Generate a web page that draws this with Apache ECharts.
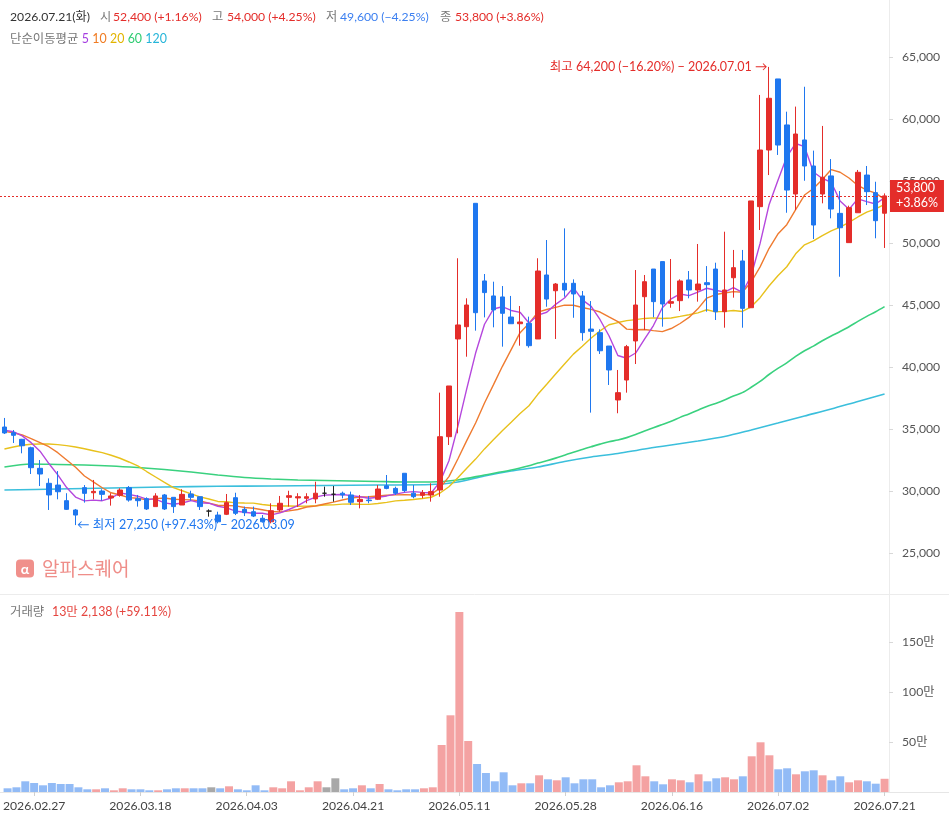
<!DOCTYPE html>
<html><head><meta charset="utf-8">
<script src="https://cdn.jsdelivr.net/npm/echarts@6/dist/echarts.min.js"></script>
<style>html,body{margin:0;padding:0;background:#fff}#c{width:949px;height:821px}</style>
</head><body><div id="c"></div>
<script>
const dates = ['2026.02.24','2026.02.25','2026.02.26','2026.02.27','2026.03.03','2026.03.04','2026.03.05','2026.03.06','2026.03.09','2026.03.10',
'2026.03.11','2026.03.12','2026.03.13','2026.03.16','2026.03.17','2026.03.18','2026.03.19','2026.03.20','2026.03.23','2026.03.24',
'2026.03.25','2026.03.26','2026.03.27','2026.03.30','2026.03.31','2026.04.01','2026.04.02','2026.04.03','2026.04.06','2026.04.07',
'2026.04.08','2026.04.09','2026.04.10','2026.04.13','2026.04.14','2026.04.15','2026.04.16','2026.04.17','2026.04.20','2026.04.21',
'2026.04.22','2026.04.23','2026.04.24','2026.04.27','2026.04.28','2026.04.29','2026.04.30','2026.05.04','2026.05.06','2026.05.07',
'2026.05.08','2026.05.11','2026.05.12','2026.05.13','2026.05.14','2026.05.15','2026.05.18','2026.05.19','2026.05.20','2026.05.21',
'2026.05.22','2026.05.26','2026.05.27','2026.05.28','2026.05.29','2026.06.01','2026.06.02','2026.06.04','2026.06.05','2026.06.08',
'2026.06.09','2026.06.10','2026.06.11','2026.06.12','2026.06.15','2026.06.16','2026.06.17','2026.06.18','2026.06.19','2026.06.22',
'2026.06.23','2026.06.24','2026.06.25','2026.06.26','2026.06.29','2026.06.30','2026.07.01','2026.07.02','2026.07.03','2026.07.06',
'2026.07.07','2026.07.08','2026.07.09','2026.07.10','2026.07.13','2026.07.14','2026.07.15','2026.07.16','2026.07.20','2026.07.21'];

const opens = [35160,34700,34170,33490,31830,30620,30480,29220,28470,30270,
29860,30000,29440,29650,30270,29380,29380,28740,29680,29490,
28870,29760,29540,28380,28060,28120,29460,28520,28330,27800,
27520,28470,29490,29440,29410,29360,29820,29740,29820,29680,
29140,29270,29330,30420,30210,31430,29820,29650,29680,30080,
34380,42260,43250,53200,46940,45730,45650,44030,43490,43520,
42260,47420,46150,46750,46750,45730,43060,42770,41690,37340,
38950,42100,45670,47900,48500,45140,45350,47020,46210,46800,
47900,44460,47200,48550,44780,52930,57500,63230,59520,53950,
58310,56210,53950,55410,52390,50030,52440,55480,54060,52400];

const closes = [34680,34490,33650,31880,31370,29680,29940,28520,28060,29810,
29970,29730,29600,30080,29270,29220,28550,29600,28550,28740,
29730,29490,28740,28380,27520,29060,28200,28250,27980,27520,
28410,29010,29620,29540,29540,29820,29820,29740,29680,29090,
29330,29220,30160,30210,29820,30030,29540,29860,29950,34380,
38470,43390,45000,44380,46000,44600,44330,43490,43630,41720,
47740,45480,46690,46210,45890,42770,42880,41310,39760,37930,
41640,45000,46880,45270,45080,45270,46940,46210,46690,46640,
44460,46210,48010,44730,53390,57500,61670,57900,54270,58790,
56210,51450,55300,52740,51230,52850,55700,54140,51800,53800];

const lows = [34600,33870,33040,31370,30400,28470,29330,28470,27250,29060,
29330,29220,28820,29540,29140,28740,28470,28740,28470,28230,
28870,29220,28470,27930,27390,28060,28060,27980,27900,27450,
27390,28330,28740,28710,29010,29010,29540,29140,29410,28870,
28600,29010,29270,30140,29680,29900,29410,29410,29140,29540,
33710,34650,40830,42930,44000,43200,41640,43490,41720,41560,
42260,44860,42260,45670,43970,42120,36320,41050,38550,36270,
37930,40240,42980,44010,43250,44780,44510,45540,45270,44460,
43790,43170,45590,43170,44780,51050,55480,57100,52440,52660,
55020,50320,53200,51990,47280,50030,52440,53060,50380,49600];

const highs = [35890,34920,34200,33570,32500,31020,31610,29820,28550,30480,
30890,30140,29820,30220,30400,29680,29490,29820,29760,29490,
30140,30020,29540,28520,28330,29760,29860,28740,28740,28060,
29010,29600,30020,29820,29820,30750,30350,30400,29950,29950,
29680,29600,30480,31290,30350,31430,30480,30080,30620,37930,
38470,48770,45540,53200,47500,46880,46530,45730,44920,44060,
48770,50240,46770,51180,47070,46130,45320,43040,41690,39760,
41780,47820,47420,47900,48500,48710,47070,47740,49920,48140,
48410,50910,49440,49440,53390,61940,64200,63230,60590,61000,
62600,57450,59440,56770,54190,53010,55890,56210,54940,54000];

const volumes = [37000,47000,107000,90000,67000,90000,80000,80000,47000,27000,
27000,37000,17000,37000,27000,27000,17000,17000,27000,37000,
37000,37000,37000,47000,37000,57000,27000,17000,67000,17000,
47000,37000,107000,17000,47000,107000,47000,137000,27000,37000,
67000,37000,80000,27000,17000,27000,27000,37000,47000,470000,
767000,1800000,510000,280000,190000,107000,197000,67000,87000,87000,
167000,127000,117000,147000,87000,127000,127000,47000,67000,97000,
107000,267000,157000,107000,77000,127000,117000,97000,177000,107000,
137000,147000,127000,157000,357000,497000,367000,227000,237000,177000,
207000,217000,167000,117000,157000,97000,117000,107000,83050,132138];

const ma5Early = [34900,34780,34450,33900];
const ma10Early = [34810,34700,34520,34220,33900,33570,33090,32500,31910];
const ma20Early = [33390,33550,33690,33770,33790,33790,33740,33660,33550,33410,33250,33090,32880,32640,32340,32020,31570,31130,30690];
const ma60Read = [[0,31935],[3,32180],[6,32140],[9,32100],[12,32020],[15,31890],[18,31730],[21,31530],[24,31290],[27,31090],[30,30970],[33,30890],[36,30850],[39,30810],[42,30770],[45,30730],[48,30730],[51,30890],[54,31290],[57,31690]];
const ma120Read = [[0,30080],[6,30160],[12,30240],[18,30320],[24,30380],[30,30400],[36,30440],[42,30480],[48,30520],[51,30720],[54,31210],[57,31610],[60,31930],[63,32380],[66,32740],[69,33020],[72,33390],[75,33710],[78,34030],[81,34390],[84,34920],[87,35480],[90,36050],[93,36610],[96,37220],[99,37820]];

const priceTicks = [25000,30000,35000,40000,45000,50000,55000,60000,65000];
const volumeTicks = [0,500000,1000000,1500000,2000000];
const labelDates = ['2026.02.27','2026.03.18','2026.04.03','2026.04.21','2026.05.11','2026.05.28','2026.06.16','2026.07.02','2026.07.21'];

const RED='#e42d2a', BLUE='#1f77ef', DOJI='#222';
const FONT='Lato, "Noto Sans CJK KR", sans-serif';

function sma(n, early){
  return closes.map((c,i)=>{
    if(i<n-1) return early[i];
    let s=0; for(let k=i-n+1;k<=i;k++) s+=closes[k];
    return Math.round(s/n);
  });
}
function fromPairs(pairs){ const a=dates.map(()=>null); pairs.forEach(p=>{a[p[0]]=p[1];}); return a; }
const ma5=sma(5,ma5Early), ma10=sma(10,ma10Early), ma20=sma(20,ma20Early);
const ma60=fromPairs(ma60Read);
for(let i=59;i<closes.length;i++){ let s=0; for(let k=i-59;k<=i;k++) s+=closes[k]; ma60[i]=Math.round(s/60); }
const ma120=fromPairs(ma120Read);

const candleData = dates.map((d,i)=>[opens[i],closes[i],lows[i],highs[i]]);
const volData = volumes.map((v,i)=>({value:v,itemStyle:{color: closes[i]>opens[i]?'#f4a2a2':(closes[i]<opens[i]?'#92bbf6':'#a8a8a8')}}));

const last = closes.length-1;
const fmt = v=>v.toLocaleString('en-US');
let hiIdx=0, loIdx=0;
highs.forEach((h,i)=>{ if(h>highs[hiIdx]) hiIdx=i; });
lows.forEach((l,i)=>{ if(l<lows[loIdx]) loIdx=i; });
const prevClose = closes[last-1];
const pct = v => { const p=(v/prevClose-1)*100; return (p>=0?'+':'−')+Math.abs(p).toFixed(2)+'%'; };
const hiPct = ((closes[last]/highs[hiIdx]-1)*100);
const loPct = ((closes[last]/lows[loIdx]-1)*100);
const labelSet = new Set(labelDates);

function maLine(name,data,color,width,extra){
  return Object.assign({name,type:'line',data,xAxisIndex:0,yAxisIndex:0,showSymbol:false,symbol:'none',
    lineStyle:{color,width:width},itemStyle:{color},silent:true,z:3,animation:false},extra||{});
}

const H1 = '12.2px '+FONT;
const chart = echarts.init(document.getElementById('c'));
chart.setOption({
  animation:false,
  backgroundColor:'#fff',
  textStyle:{fontFamily:FONT},
  grid:[{left:0,right:60,top:57,height:496},{left:0,right:60,top:592,height:200}],
  xAxis:[
    {type:'category',data:dates,gridIndex:0,boundaryGap:true,axisLine:{show:false},axisTick:{show:false},axisLabel:{show:false},splitLine:{show:false}},
    {type:'category',data:dates,gridIndex:1,boundaryGap:true,axisLine:{show:false},
     axisTick:{show:true,alignWithLabel:true,length:4,lineStyle:{color:'#d0d0d0'},interval:(i,v)=>labelSet.has(v)},
     axisLabel:{show:true,interval:(i,v)=>labelSet.has(v),color:'#444',fontSize:12.2,margin:8,fontFamily:FONT},splitLine:{show:false}}
  ],
  yAxis:[
    {type:'value',gridIndex:0,position:'right',min:priceTicks[0],max:priceTicks[priceTicks.length-1],interval:priceTicks[1]-priceTicks[0],
     axisLine:{show:false},axisTick:{show:true,length:4,lineStyle:{color:'#d8d8d8'}},splitLine:{show:false},
     axisLabel:{color:'#555',fontSize:12.2,margin:13,formatter:v=>fmt(v),fontFamily:FONT}},
    {type:'value',gridIndex:1,position:'right',min:volumeTicks[0],max:volumeTicks[volumeTicks.length-1],interval:volumeTicks[1]-volumeTicks[0],
     axisLine:{show:false},axisTick:{show:true,length:4,lineStyle:{color:'#d8d8d8'}},splitLine:{show:false},
     axisLabel:{color:'#555',fontSize:12.2,margin:13,showMinLabel:false,showMaxLabel:false,formatter:v=>(v/10000)+'만',fontFamily:FONT}}
  ],
  series:[
    maLine('MA120',ma120,'#3bbfdc',1.6,{connectNulls:true,smooth:0.3}),
    maLine('MA60',ma60,'#3ad17f',1.6,{connectNulls:true,smooth:0.3}),
    maLine('MA20',ma20,'#e8c11c',1.4),
    maLine('MA10',ma10,'#ef7b30',1.4),
    maLine('MA5',ma5,'#b547dd',1.4),
    {type:'candlestick',name:'price',data:candleData,xAxisIndex:0,yAxisIndex:0,barWidth:5,z:4,
     itemStyle:{color:RED,color0:BLUE,borderColor:RED,borderColor0:BLUE,borderColorDoji:DOJI,borderWidth:1},
     markLine:{symbol:'none',silent:true,animation:false,
       data:[{yAxis:closes[last]}],
       lineStyle:{color:RED,type:[2,2],width:1},
       label:{position:'end',distance:1,formatter:fmt(closes[last])+'\n'+pct(closes[last]),color:'#fff',backgroundColor:RED,
              fontSize:12.5,lineHeight:15,padding:[1,6,1,6],fontFamily:FONT,align:'left'}},
     markPoint:{silent:true,animation:false,symbol:'circle',symbolSize:1,itemStyle:{color:'rgba(0,0,0,0)'},
       data:[
        {coord:[hiIdx,highs[hiIdx]],label:{show:true,position:'left',distance:1,color:RED,fontSize:12.5,fontFamily:FONT,
          formatter:'최고 '+fmt(highs[hiIdx])+' ('+(hiPct<0?'−':'+')+Math.abs(hiPct).toFixed(2)+'%) − '+dates[hiIdx]+' →'}},
        {coord:[loIdx,lows[loIdx]],label:{show:true,position:'right',distance:1,color:BLUE,fontSize:12.5,fontFamily:FONT,
          formatter:'← 최저 '+fmt(lows[loIdx])+' ('+(loPct<0?'−':'+')+Math.abs(loPct).toFixed(2)+'%) − '+dates[loIdx]}}
       ]}
    },
    {type:'bar',name:'volume',data:volData,xAxisIndex:1,yAxisIndex:1,barCategoryGap:'10%',silent:true}
  ],
  graphic:[
    {type:'line',shape:{x1:889.5,y1:0,x2:889.5,y2:792},style:{stroke:'#ececec',lineWidth:1},silent:true},
    {type:'line',shape:{x1:0,y1:594.5,x2:949,y2:594.5},style:{stroke:'#ececec',lineWidth:1},silent:true},
    {type:'line',shape:{x1:0,y1:792.5,x2:949,y2:792.5},style:{stroke:'#e6e6e6',lineWidth:1},silent:true},
    {type:'text',left:10,top:11,style:{text:dates[last]+'(화)',fill:'#333',font:H1}},
    {type:'text',left:100,top:11,style:{text:'시',fill:'#777',font:H1}},
    {type:'text',left:113,top:11,style:{text:fmt(opens[last])+' ('+pct(opens[last])+')',fill:RED,font:H1}},
    {type:'text',left:212,top:11,style:{text:'고',fill:'#777',font:H1}},
    {type:'text',left:227,top:11,style:{text:fmt(highs[last])+' ('+pct(highs[last])+')',fill:RED,font:H1}},
    {type:'text',left:326,top:11,style:{text:'저',fill:'#777',font:H1}},
    {type:'text',left:340,top:11,style:{text:fmt(lows[last])+' ('+pct(lows[last])+')',fill:'#3b7ff0',font:H1}},
    {type:'text',left:440,top:11,style:{text:'종',fill:'#777',font:H1}},
    {type:'text',left:455,top:11,style:{text:fmt(closes[last])+' ('+pct(closes[last])+')',fill:RED,font:H1}},
    {type:'text',left:10,top:33,style:{rich:{g:{fill:'#777',fontSize:12.4,fontFamily:FONT},a:{fill:'#a53ee0',fontSize:12.4,fontFamily:FONT},
      b:{fill:'#f07b22',fontSize:12.4,fontFamily:FONT},c:{fill:'#e2b400',fontSize:12.4,fontFamily:FONT},d:{fill:'#2ecc71',fontSize:12.4,fontFamily:FONT},e:{fill:'#26b5d9',fontSize:12.4,fontFamily:FONT}},
      text:'{g|단순이동평균} {a|5} {b|10} {c|20} {d|60} {e|120}'}},
    {type:'text',left:10,top:606,style:{text:'거래량',fill:'#777',font:'12.4px '+FONT}},
    {type:'text',left:52,top:606,style:{text:Math.floor(volumes[last]/10000)+'만 '+fmt(volumes[last]%10000)+' (+'+((volumes[last]/volumes[last-1]-1)*100).toFixed(2)+'%)',fill:'#e5453f',font:'12.4px '+FONT}},
    {type:'group',left:16,top:559,children:[
      {type:'rect',shape:{x:0,y:0,width:18,height:18,r:4},style:{fill:'#f0908b'}},
      {type:'text',x:9,y:9.5,style:{text:'α',fill:'#fff',font:'bold 14px '+FONT,align:'center',verticalAlign:'middle'}},
      {type:'text',x:26,y:9,style:{text:'알파스퀘어',fill:'#ef8e89',font:'19px "Noto Sans CJK KR", sans-serif',verticalAlign:'middle'}}
    ]}
  ]
});
</script></body></html>
